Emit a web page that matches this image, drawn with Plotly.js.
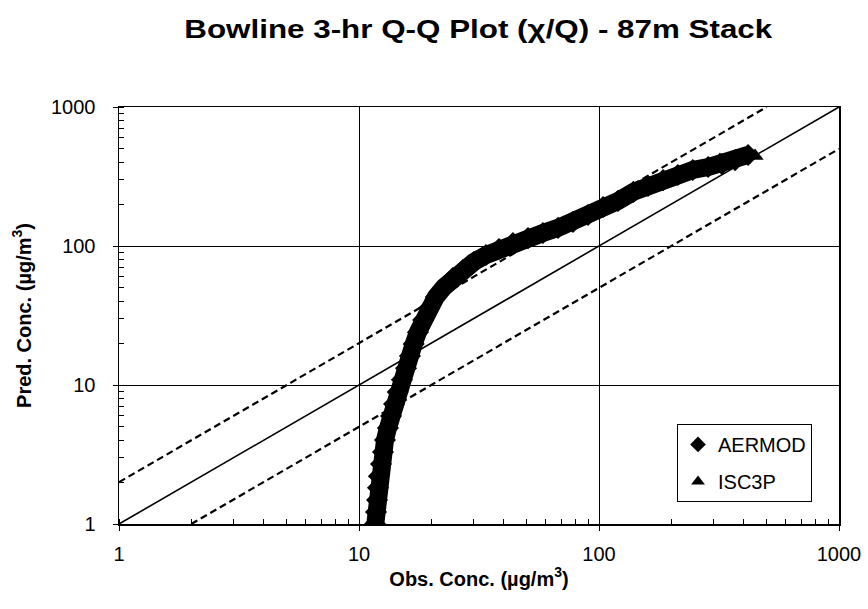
<!DOCTYPE html>
<html>
<head>
<meta charset="utf-8">
<script src="https://cdn.plot.ly/plotly-3.0.1.min.js"></script>
<style>html,body{margin:0;padding:0;background:#fff;}#chart{width:868px;height:609px;}</style>
</head>
<body>
<div id="chart"></div>
<script>
// AERMOD ranked pairs (observed, predicted), ug/m3
const aermodObs = [11.55, 11.66, 11.77, 11.89, 12.0, 12.1, 12.35, 12.59, 12.83, 13.2, 13.6, 14.0, 14.5, 15.1, 15.7, 16.3, 16.9, 17.6, 18.5, 19.6, 20.9, 22.6, 24.6, 27.1, 30.1, 33.8, 38.3, 43.8, 50.6, 58.4, 67.5, 77.9, 90.0, 104, 120, 139, 160, 185, 213, 246, 285, 325, 369, 418];
const aermodPred = [0.83, 1.0, 1.22, 1.49, 1.82, 2.21, 2.70, 3.30, 4.02, 4.9, 5.98, 7.3, 8.9, 10.9, 13.2, 16.2, 19.7, 24.0, 29.4, 35.8, 43.0, 50.7, 58.9, 67.2, 76.7, 86.1, 95.1, 105, 114, 124, 135, 149, 167, 191, 211, 245, 270, 298, 324, 352, 370, 389, 415, 452];
// ISC3P ranked pairs (observed, predicted), ug/m3
const iscObs = [160, 185, 213, 264, 319, 387, 447];
const iscPred = [285, 310, 335, 364, 415, 444, 444];
// reference lines: 1:1 and factor-of-two
const oneToOneX = [1, 1000];
const oneToOneY = [1, 1000];
const upperX = [1, 500];
const upperY = [2, 1000];
const lowerX = [2, 1000];
const lowerY = [1, 500];
const tickVals = [1, 10, 100, 1000];
const tickText = ['1', '10', '100', '1000'];

const FONT = 'Liberation Sans, Arial, sans-serif';

const traces = [
  {x: oneToOneX, y: oneToOneY, mode: 'lines', line: {color: '#000', width: 1.6}, showlegend: false, hoverinfo: 'skip'},
  {x: upperX, y: upperY, mode: 'lines', line: {color: '#000', width: 2.2, dash: '7px,4px'}, showlegend: false, hoverinfo: 'skip'},
  {x: lowerX, y: lowerY, mode: 'lines', line: {color: '#000', width: 2.2, dash: '7px,4px'}, showlegend: false, hoverinfo: 'skip'},
  {x: iscObs, y: iscPred, mode: 'markers', name: 'ISC3P', legendrank: 2, legendgroup: 'b',
   marker: {symbol: 'triangle-up', size: 15, color: '#000'}},
  {x: aermodObs, y: aermodPred, mode: 'lines', line: {color: '#000', width: 18}, showlegend: false, hoverinfo: 'skip'},
  {x: aermodObs, y: aermodPred, mode: 'markers', name: 'AERMOD', legendrank: 1, legendgroup: 'a',
   marker: {symbol: 'diamond', size: 17, color: '#000'}}
];

const axisCommon = {
  type: 'log', range: [0, 3],
  tickvals: tickVals, ticktext: tickText,
  ticks: 'outside', ticklen: 5, tickwidth: 1, tickcolor: '#000',
  showgrid: true, gridcolor: '#000', gridwidth: 1,
  showline: true, linecolor: '#000', linewidth: 1.5, mirror: true,
  zeroline: false,
  tickfont: {family: FONT, size: 20, color: '#000'},
  minor: {ticks: 'inside', ticklen: 5, tickcolor: '#000', tickwidth: 1, dtick: 'D1', showgrid: false}
};

const layout = {
  width: 868, height: 609,
  margin: {l: 119, r: 29, t: 107, b: 85},
  paper_bgcolor: '#fff', plot_bgcolor: '#fff',
  font: {family: FONT, color: '#000'},
  title: {text: '<b>Bowline 3-hr Q-Q Plot (χ/Q) - 87m Stack</b>', x: 0.551, xanchor: 'center', y: 0.952, yanchor: 'middle',
          font: {family: FONT, size: 26, color: '#000'}},
  xaxis: Object.assign({}, axisCommon, {
    title: {text: '<b>Obs. Conc. (µg/m<sup>3</sup>)</b>', standoff: 8, font: {family: FONT, size: 20, color: '#000'}},
    ticklabelstandoff: 6
  }),
  yaxis: Object.assign({}, axisCommon, {
    title: {text: '<b>Pred. Conc. (µg/m<sup>3</sup>)</b>', standoff: 14, font: {family: FONT, size: 20, color: '#000'}},
    ticklabelstandoff: 13
  }),
  showlegend: true,
  legend: {x: 0.775, y: 0.24, xanchor: 'left', yanchor: 'top',
           bgcolor: '#fff', bordercolor: '#000', borderwidth: 1,
           font: {family: FONT, size: 20, color: '#000'}, itemwidth: 30, tracegroupgap: 8,
           itemsizing: 'constant'}
};

Plotly.newPlot('chart', traces, layout, {displayModeBar: false, staticPlot: true}).then(function (gd) {
  const t = gd.querySelector('.gtitle');
  if (t) {
    t.setAttribute('textLength', '588');
    t.setAttribute('lengthAdjust', 'spacingAndGlyphs');
  }
});
</script>
</body>
</html>
